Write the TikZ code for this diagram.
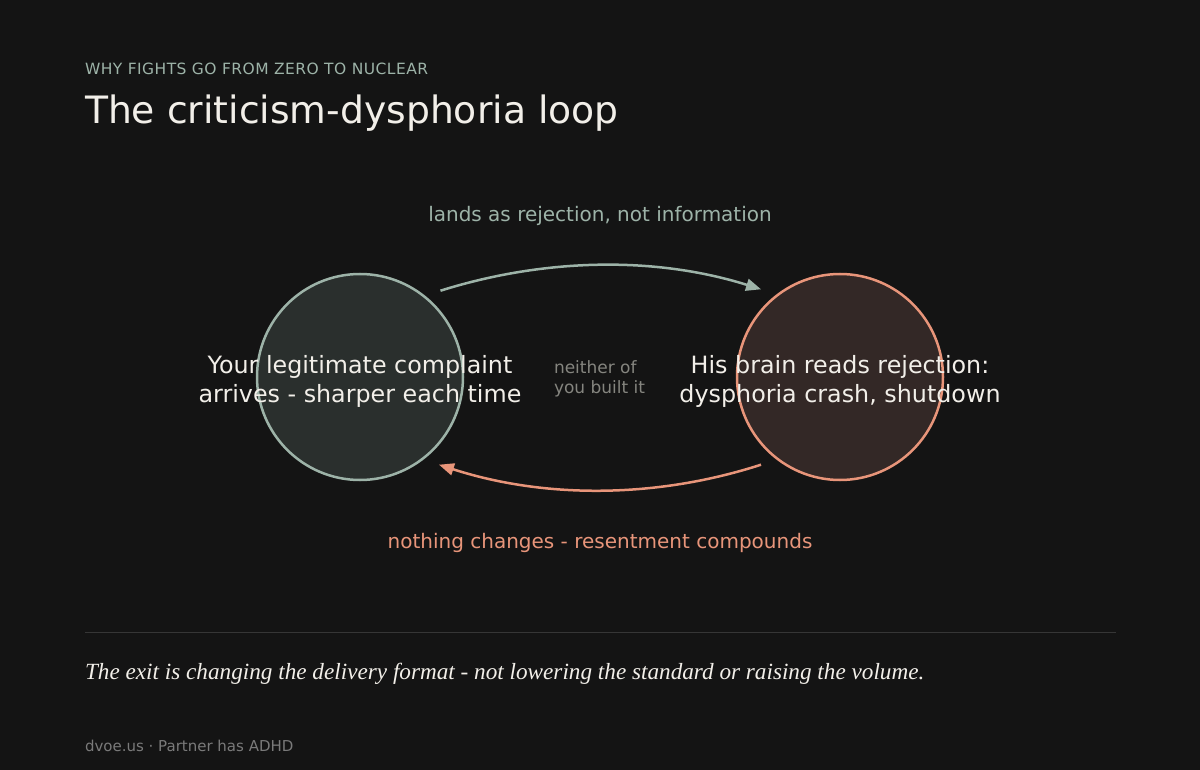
\documentclass[tikz,border=0pt]{standalone}
\usepackage{fontspec}
\setmainfont{DejaVu Sans}
\newfontfamily\quotefont{Liberation Serif}
\usetikzlibrary{arrows.meta, positioning}
\definecolor{bg}{HTML}{141414}
\definecolor{sage}{HTML}{9DB3A8}
\definecolor{salmon}{HTML}{E8957A}
\definecolor{ink}{HTML}{F2EFE9}
\definecolor{dim}{HTML}{85857F}
\definecolor{foot}{HTML}{7A7A7A}
\definecolor{rulegray}{HTML}{363636}
\definecolor{youfill}{HTML}{2A2F2D}
\definecolor{hisfill}{HTML}{332826}
\tikzset{
  txt/.style       = {inner sep=0pt, outer sep=0pt},
  bubble/.style    = {circle, line width=2.5pt, minimum size=206pt, inner sep=0pt, outer sep=15pt},
  bubbletext/.style = {txt, align=center, text=ink, font=\fontsize{23.8}{29}\selectfont},
  loopline/.style  = {line width=2.5pt, -{Triangle[length=15pt,width=12pt]}},
  arclbl/.style    = {txt, anchor=base, font=\fontsize{20}{24}\selectfont},
}

\begin{document}
\begin{tikzpicture}[x=1pt, y=-1pt]
  \fill[bg] (0,0) rectangle (1200,770);

  % heading
  \node[txt, anchor=base west, text=sage, font=\fontsize{15.5}{18}\selectfont\addfontfeature{LetterSpace=3}] (kicker) at (85,75) {WHY FIGHTS GO FROM ZERO TO NUCLEAR};
  \node[txt, anchor=base west, text=ink, font=\fontsize{37.7}{44}\selectfont] (title) at (85,124) {The criticism-dysphoria loop};

  % the two states
  \node[bubble, draw=sage, fill=youfill] (you) at (360,377) {};
  \node[bubble, draw=salmon, fill=hisfill] (him) at (840,377) {};
  \node[bubbletext] (youtext) at (360,381) {Your legitimate complaint\\arrives - sharper each time};
  \node[bubbletext] (himtext) at (840,381) {His brain reads rejection:\\dysphoria crash, shutdown};
  \node[txt, anchor=west, align=left, text=dim, font=\fontsize{17}{20}\selectfont] (neither) at (554,379) {neither of\\you built it};

  % the loop
  \draw[loopline, sage] (you.47) .. controls +(105,-33) and +(-105,-33) .. (him.132);
  \draw[loopline, salmon] (him.228) .. controls +(-105,34) and +(105,34) .. (you.312);
  \node[arclbl, text=sage] (toplbl) at (600,222) {lands as rejection, not information};
  \node[arclbl, text=salmon] (botlbl) at (600,548) {nothing changes - resentment compounds};

  % takeaway
  \draw[rulegray, line width=1pt] (85,632) -- (1116,632);
  \node[txt, anchor=base west, text=ink, font=\quotefont\itshape\fontsize{23.2}{28}\selectfont] (exit) at (85,679) {The exit is changing the delivery format - not lowering the standard or raising the volume.};
  \node[txt, anchor=base west, text=foot, font=\fontsize{15}{18}\selectfont] (footer) at (85,751) {dvoe.us · Partner has ADHD};
\end{tikzpicture}
\end{document}
